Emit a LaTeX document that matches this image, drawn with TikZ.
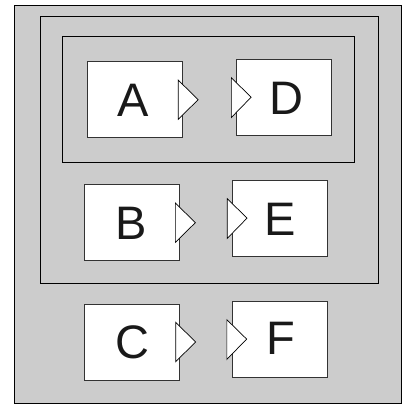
\documentclass[tikz,border=0pt]{standalone}
\usepackage{fontspec}
\setmainfont{Liberation Sans}
\usetikzlibrary{calc}
\definecolor{bggray}{HTML}{CCCCCC}
\definecolor{edgegray}{HTML}{333333}
\tikzset{
  frame/.style={draw=black, line width=0.9pt},
  blk/.style={draw=edgegray, line width=0.9pt, fill=white, minimum width=95pt, minimum height=76pt, inner sep=0pt},
  letter/.style={font=\fontsize{47}{47}\selectfont, inner sep=0pt, text=black!90},
  port/.style={fill=white, draw=black, line width=0.7pt, line join=miter}
}
\begin{document}
\begin{tikzpicture}[x=1pt,y=-1pt]
\useasboundingbox (0,0) rectangle (403,405);
\fill[white] (0,0) rectangle (403,405);
% frames
\draw[frame, fill=bggray] (14,5) rectangle (401,403);
\draw[frame] (40,16.7) rectangle (378,283.3);
\draw[frame] (62.7,36.7) rectangle (354.7,162.3);
% blocks
\node[blk] (A) at (134.5,99.7) {};
\node[blk] (D) at (284.3,97.8) {};
\node[blk] (B) at (131.7,222.7) {};
\node[blk] (E) at (280.2,218.7) {};
\node[blk] (C) at (132,342) {};
\node[blk] (F) at (279.8,339.7) {};
% letters
\node[letter] (tA) at (133,100.5) {A};
\node[letter] (tD) at (286.5,98.7) {D};
\node[letter] (tB) at (131.5,223.3) {B};
\node[letter] (tE) at (280.3,219) {E};
\node[letter] (tC) at (132,342.5) {C};
\node[letter] (tF) at (280.5,338.8) {F};
% output ports
\foreach \b in {A,B,C}{
  \draw[port] ($(\b.east)+(-4.3,-19.7)$) -- ($(\b.east)+(-4.3,19.7)$) -- ($(\b.east)+(15.7,0)$) -- cycle;
}
% input ports
\foreach \b in {D,E,F}{
  \draw[port] ($(\b.west)+(-5,-20)$) -- ($(\b.west)+(-5,19.7)$) -- ($(\b.west)+(14.8,-0.6)$) -- cycle;
}
\end{tikzpicture}
\end{document}
